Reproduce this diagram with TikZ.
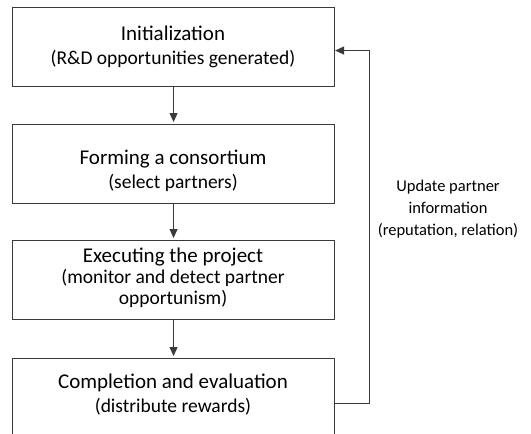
\documentclass[tikz,border=0pt]{standalone}
\usepackage{fontspec}
\setmainfont{Carlito}
\usetikzlibrary{arrows.meta}
\definecolor{linec}{HTML}{3A3A3A}
\begin{document}
\begin{tikzpicture}[x=1pt,y=-1pt,
  stagebox/.style={draw=linec, line width=1.1pt, minimum width=322pt, minimum height=79pt,
    inner sep=0pt, anchor=north west},
  ttl/.style={font=\fontsize{21}{25}\selectfont, text=black, inner sep=0pt},
  sub/.style={font=\fontsize{19.5}{24}\selectfont, text=black, inner sep=0pt},
  arr/.style={draw=linec, line width=1pt, -{Triangle[width=8pt,length=9pt]}, shorten >=2pt},
  lbl/.style={align=center, font=\fontsize{16.5}{22}\selectfont, text=black}]
\clip (0,0) rectangle (531,434);
\useasboundingbox (0,0) rectangle (531,434);
\node[stagebox] (b1) at (12,7) {};
\node[stagebox] (b2) at (12,124) {};
\node[stagebox] (b3) at (12,240) {};
\node[stagebox] (b4) at (12,358) {};
\node[ttl] (t1) at (173,33) {Initialization};
\node[sub] (s1) at (173,59) {(R\&D opportunities generated)};
\node[ttl] (t2) at (173,159) {Forming a consortium};
\node[sub] (s2) at (173,183) {(select partners)};
\node[ttl] (t3) at (173,257) {Executing the project};
\node[sub] (s3) at (173,278) {(monitor and detect partner};
\node[sub] (s3b) at (173,299) {opportunism)};
\node[ttl] (t4) at (173,383) {Completion and evaluation};
\node[sub] (s4) at (173,407) {(distribute rewards)};
\draw[arr] (b1.south) -- (b2.north);
\draw[arr] (b2.south) -- (b3.north);
\draw[arr] (b3.south) -- (b4.north);
\draw[arr, shorten >=0pt] ([yshift=-5.5pt]b4.east) -- ++(34,0) coordinate (fbc) |- ([yshift=-3.5pt]b1.east);
\node[lbl] (upd) at (448,209) {Update partner\\information\\(reputation, relation)};
\end{tikzpicture}
\end{document}
